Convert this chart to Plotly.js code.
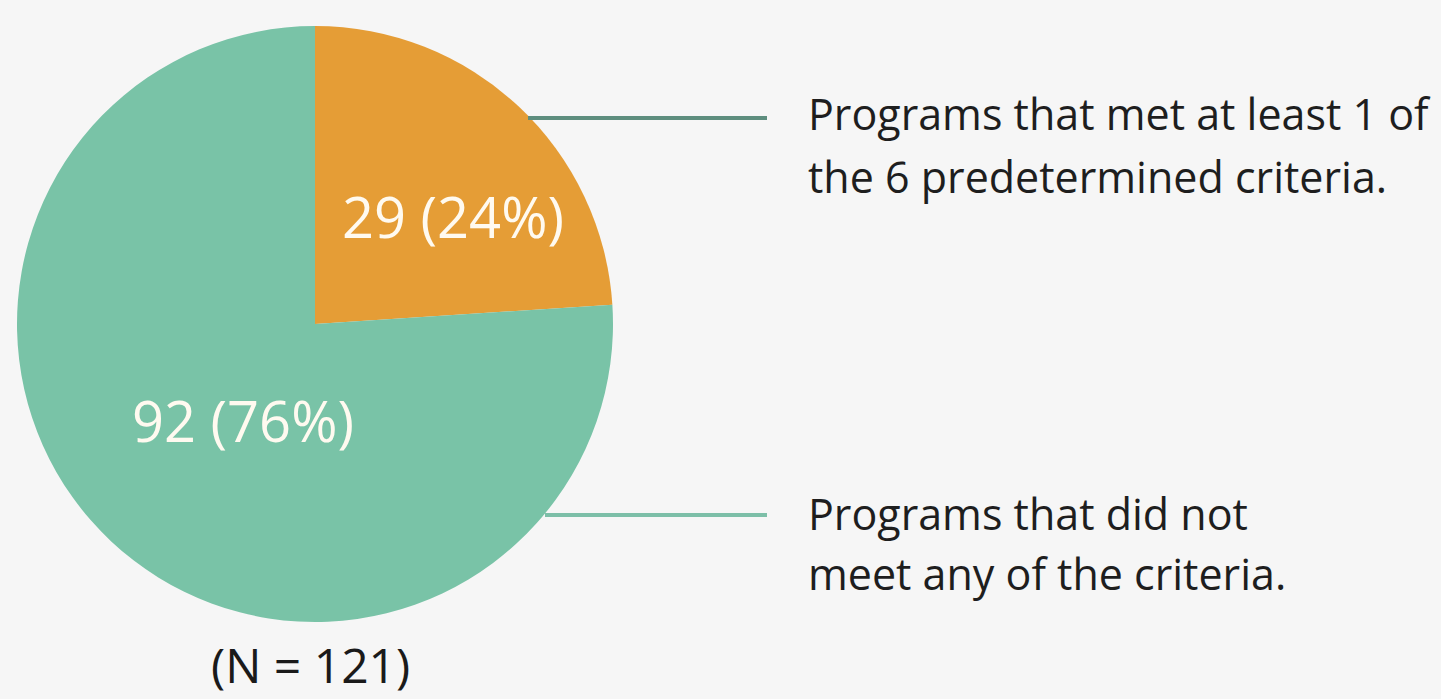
<!DOCTYPE html>
<html>
<head>
<meta charset="utf-8">
<script src="https://cdn.plot.ly/plotly-3.0.1.min.js"></script>
<style>
html,body{margin:0;padding:0;background:#f6f6f6;}
#chart{width:1441px;height:699px;}
</style>
</head>
<body>
<div id="chart"></div>
<script>
const categories = ["Programs that met at least 1 of<br>the 6 predetermined criteria.", "Programs that did not<br>meet any of the criteria."];
const counts = [29, 92];
const percents = [24, 76];
const colors = ["#e59d36", "#79c3a7"];
const totalN = 121;

const W = 1441, H = 699;
const cx = 315, cy = 324, r = 298;
const px = x => x / W;
const py = y => 1 - y / H;

const trace = {
  type: "pie",
  values: counts,
  labels: categories,
  sort: false,
  direction: "clockwise",
  rotation: 0,
  marker: {colors: colors, line: {width: 0}},
  textinfo: "none",
  hoverinfo: "none",
  showlegend: false,
  domain: {x: [px(cx - r), px(cx + r)], y: [py(cy + r), py(cy - r)]}
};

const font = "'Open Sans', Lato, sans-serif";
const sliceLabelPos = [[453, 216], [243, 420]];
const textLineY = [[114, 176], [513, 573]];
const lineY = [118, 515];
const lineX0 = [528, 545];
const lineColors = ["#5e8e7e", "#7dbfa8"];

const annotations = [];
const shapes = [];
counts.forEach((c, i) => {
  annotations.push({
    xref: "paper", yref: "paper",
    x: px(sliceLabelPos[i][0]), y: py(sliceLabelPos[i][1]),
    xanchor: "center", yanchor: "middle", showarrow: false,
    text: c + " (" + percents[i] + "%)",
    font: {family: font, size: 56, color: "#fffaf0"}
  });
  categories[i].split("<br>").forEach((ln, j) => {
    annotations.push({
      xref: "paper", yref: "paper",
      x: px(806), y: py(textLineY[i][j]),
      xanchor: "left", yanchor: "middle", align: "left", showarrow: false,
      text: ln,
      font: {family: font, size: 43, color: "#1e1e1e"}
    });
  });
  shapes.push({
    type: "line", xref: "paper", yref: "paper",
    x0: px(lineX0[i]), x1: px(767), y0: py(lineY[i]), y1: py(lineY[i]),
    line: {color: lineColors[i], width: 4}
  });
});
annotations.push({
  xref: "paper", yref: "paper",
  x: px(310), y: 0,
  xanchor: "center", yanchor: "bottom", showarrow: false,
  text: "(N = " + totalN + ")",
  font: {family: font, size: 48, color: "#1a1a1a"}
});

const layout = {
  width: W, height: H,
  margin: {l: 0, r: 0, t: 0, b: 0},
  paper_bgcolor: "#f6f6f6",
  plot_bgcolor: "#f6f6f6",
  annotations: annotations,
  shapes: shapes
};

Plotly.newPlot("chart", [trace], layout, {displayModeBar: false, staticPlot: true});
</script>
</body>
</html>
